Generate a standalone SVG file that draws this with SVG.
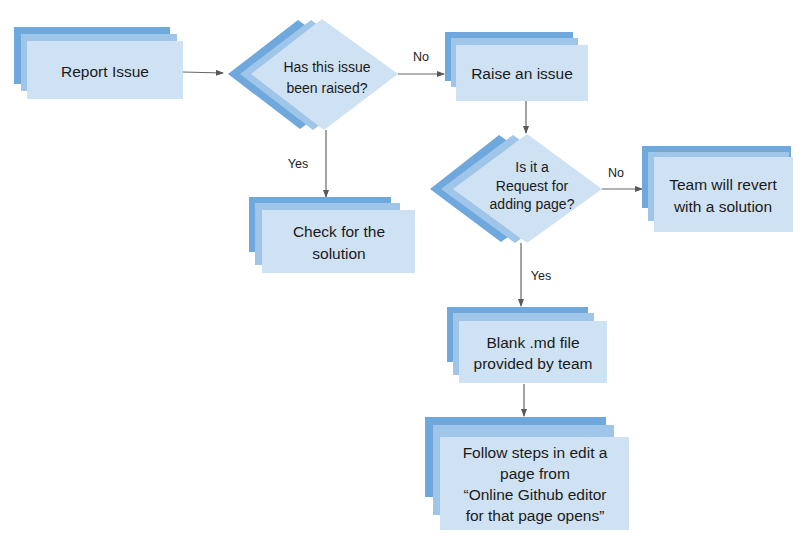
<svg xmlns="http://www.w3.org/2000/svg" width="810" height="551" viewBox="0 0 810 551">
<style>
.l1{fill:#6fa8dc}
.l2{fill:#9fc5e8}
.l3{fill:#cfe2f3}
.t{font-family:"Liberation Sans",Arial,sans-serif;font-size:15.5px;fill:#1a1a1a;text-anchor:middle}
.td{font-family:"Liberation Sans",Arial,sans-serif;font-size:14px;fill:#1a1a1a;text-anchor:middle}
.lb{font-family:"Liberation Sans",Arial,sans-serif;font-size:12.5px;fill:#1a1a1a;text-anchor:middle}
.c{stroke:#666666;stroke-width:1.2;fill:none;marker-end:url(#ah)}
</style>
<defs>
<marker id="ah" markerWidth="8" markerHeight="6" refX="7" refY="3" orient="auto" markerUnits="userSpaceOnUse">
<path d="M0,0 L8,3 L0,6 Z" fill="#595959"/>
</marker>
</defs>
<rect width="810" height="551" fill="#ffffff"/>

<g id="connectors">
<line class="c" x1="183" y1="72" x2="223" y2="73"/>
<line class="c" x1="398" y1="74" x2="444" y2="74"/>
<line class="c" x1="326" y1="130" x2="326" y2="197"/>
<line class="c" x1="526" y1="101" x2="526" y2="133"/>
<line class="c" x1="602" y1="189" x2="642" y2="189"/>
<line class="c" x1="521" y1="243" x2="521" y2="306"/>
<line class="c" x1="524" y1="384" x2="524" y2="416"/>
<text class="lb" x="421" y="61">No</text>
<text class="lb" x="298" y="168">Yes</text>
<text class="lb" x="616" y="177">No</text>
<text class="lb" x="541" y="280">Yes</text>
</g>

<g id="report">
<rect class="l1" x="14" y="27" width="156" height="57"/>
<rect class="l2" x="21" y="34" width="156" height="57"/>
<rect class="l3" x="27" y="41" width="156" height="58"/>
<text class="t" x="105" y="77">Report Issue</text>
</g>

<g id="raised">
<polygon class="l1" points="298,20 374,74 300,129 228,74"/>
<polygon class="l2" points="311,20 387,74 313,130 240,74"/>
<polygon class="l3" points="322,19 398,74 324,130 251,74"/>
<text class="td" x="327" y="72">Has this issue</text>
<text class="td" x="327" y="93">been raised?</text>
</g>

<g id="check">
<rect class="l1" x="249" y="197" width="142" height="55"/>
<rect class="l2" x="255" y="203" width="145" height="62"/>
<rect class="l3" x="262" y="210" width="153" height="63"/>
<text class="t" x="339" y="237">Check for the</text>
<text class="t" x="339" y="259">solution</text>
</g>

<g id="raise">
<rect class="l1" x="445" y="32" width="128" height="49"/>
<rect class="l2" x="451" y="38" width="127" height="49"/>
<rect class="l3" x="456" y="45" width="132" height="56"/>
<text class="t" x="522" y="79">Raise an issue</text>
</g>

<g id="request">
<polygon class="l1" points="499,135 575,189 501,242 430,189"/>
<polygon class="l2" points="513,135 589,189 515,243 441,189"/>
<polygon class="l3" points="527,134 602,189 527,243 453,189"/>
<text class="td" x="532" y="172">Is it a</text>
<text class="td" x="532" y="191">Request for</text>
<text class="td" x="532" y="209">adding page?</text>
</g>

<g id="team">
<rect class="l1" x="642" y="146" width="149" height="62"/>
<rect class="l2" x="648" y="152" width="141" height="69"/>
<rect class="l3" x="654" y="157" width="139" height="75"/>
<text class="t" x="723" y="190">Team will revert</text>
<text class="t" x="723" y="212">with a solution</text>
</g>

<g id="blank">
<rect class="l1" x="447" y="307" width="141" height="55"/>
<rect class="l2" x="453" y="313" width="141" height="62"/>
<rect class="l3" x="459" y="321" width="148" height="62"/>
<text class="t" x="533" y="348">Blank .md file</text>
<text class="t" x="533" y="369">provided by team</text>
</g>

<g id="follow">
<rect class="l1" x="425" y="417" width="181" height="80"/>
<rect class="l2" x="433" y="425" width="181" height="90"/>
<rect class="l3" x="440" y="437" width="189" height="93"/>
<text class="t" x="535" y="458">Follow steps in edit a</text>
<text class="t" x="535" y="479">page from</text>
<text class="t" x="535" y="500">“Online Github editor</text>
<text class="t" x="535" y="521">for that page opens”</text>
</g>
</svg>
